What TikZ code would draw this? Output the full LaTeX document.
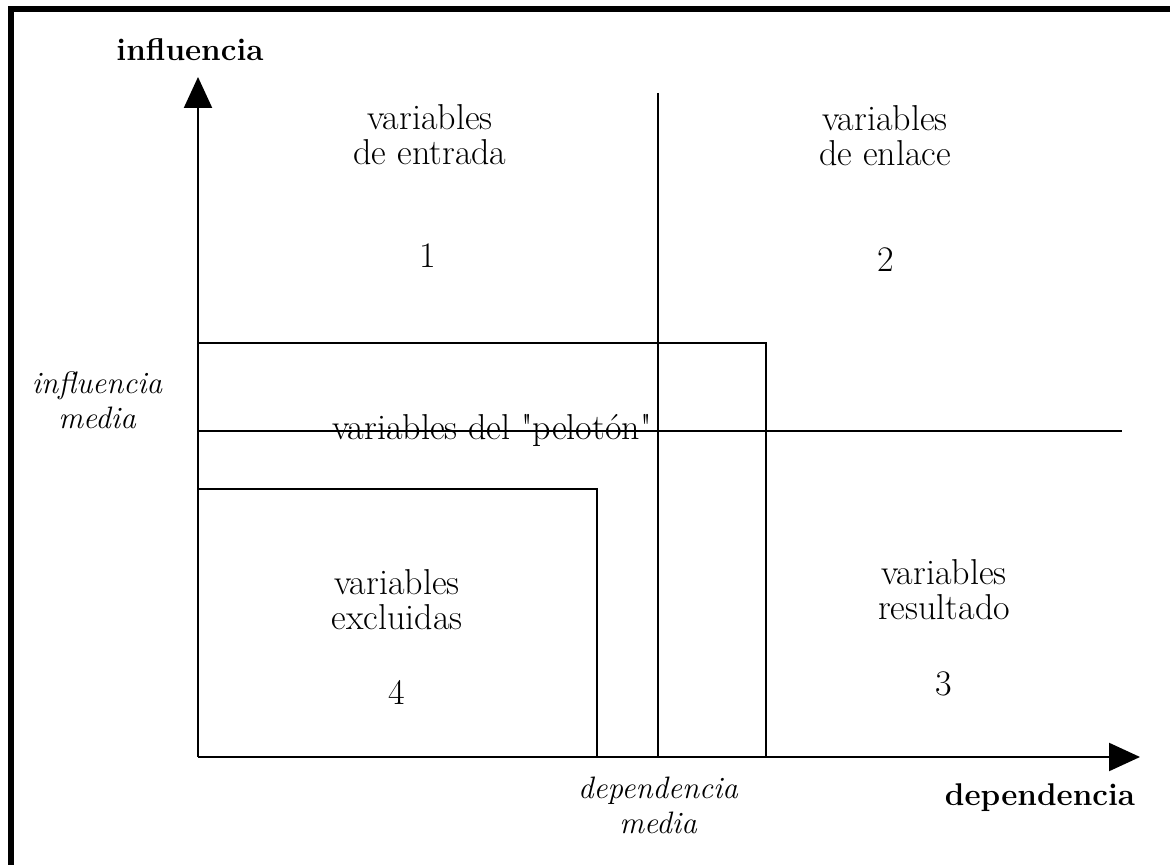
\documentclass[tikz,border=0pt]{standalone}
\usetikzlibrary{arrows.meta}
\begin{document}
\begin{tikzpicture}[x=0.5pt,y=-0.5pt,
  line/.style={line width=1.1pt,black},
  axis/.style={line width=1.1pt,-{Triangle[length=15.5pt,width=14pt]}},
  frame/.style={line width=3pt},
  lbl/.style={align=center,font=\fontsize{18}{17.5}\selectfont,inner sep=0pt},
  ital/.style={align=center,font=\fontsize{15.5}{17.5}\selectfont\itshape,inner sep=0pt},
  bold/.style={font=\fontsize{15.7}{17}\selectfont\bfseries,inner sep=0pt}]
\useasboundingbox (0,0) rectangle (1170,865);
% frame (top and left only)
\coordinate (fTL) at (10.5,9);
\coordinate (fTR) at (1170,9);
\coordinate (fBL) at (10.5,865);
\draw[frame] (fTR) -- (fTL) -- (fBL);
% axes
\coordinate (O) at (198,757);
\coordinate (ytip) at (198,77);
\coordinate (xtip) at (1140,757);
\draw[axis] (O) -- (ytip);
\draw[axis] (O) -- (xtip);
% median lines
\coordinate (vTop) at (658,93);
\coordinate (vBot) at (658,757);
\draw[line] (vTop) -- (vBot);
\coordinate (hL) at (198,431);
\coordinate (hR) at (1122,431);
\draw[line] (hL) -- (hR);
% big rectangle (pelotón)
\coordinate (bTL) at (198,343);
\coordinate (bTR) at (766,343);
\coordinate (bBR) at (766,757);
\draw[line] (bTL) -- (bTR) -- (bBR);
% small rectangle (excluidas)
\coordinate (sTL) at (198,489);
\coordinate (sTR) at (597,489);
\coordinate (sBR) at (597,757);
\draw[line] (sTL) -- (sTR) -- (sBR);
% labels
\node[bold] (yl) at (190,50) {influencia};
\node[bold] (xl) at (1040,798) {dependencia};
\node[ital] (im) at (97,400) {influencia\\media};
\node[ital] (dm) at (658,805) {dependencia\\media};
\node[lbl] (q1) at (430,135) {variables\\de entrada};
\node[lbl] (n1) at (428,256) {1};
\node[lbl] (q2) at (885,136) {variables\\de enlace};
\node[lbl] (n2) at (886,260) {2};
\node[lbl] (pel) at (492,430) {variables del \textquotedbl pelot\'on\textquotedbl};
\node[lbl] (q4) at (397,600) {variables\\excluidas};
\node[lbl] (n4) at (397,692) {4};
\node[lbl] (q3) at (944,590) {variables\\resultado};
\node[lbl] (n3) at (944,684) {3};
\end{tikzpicture}
\end{document}
